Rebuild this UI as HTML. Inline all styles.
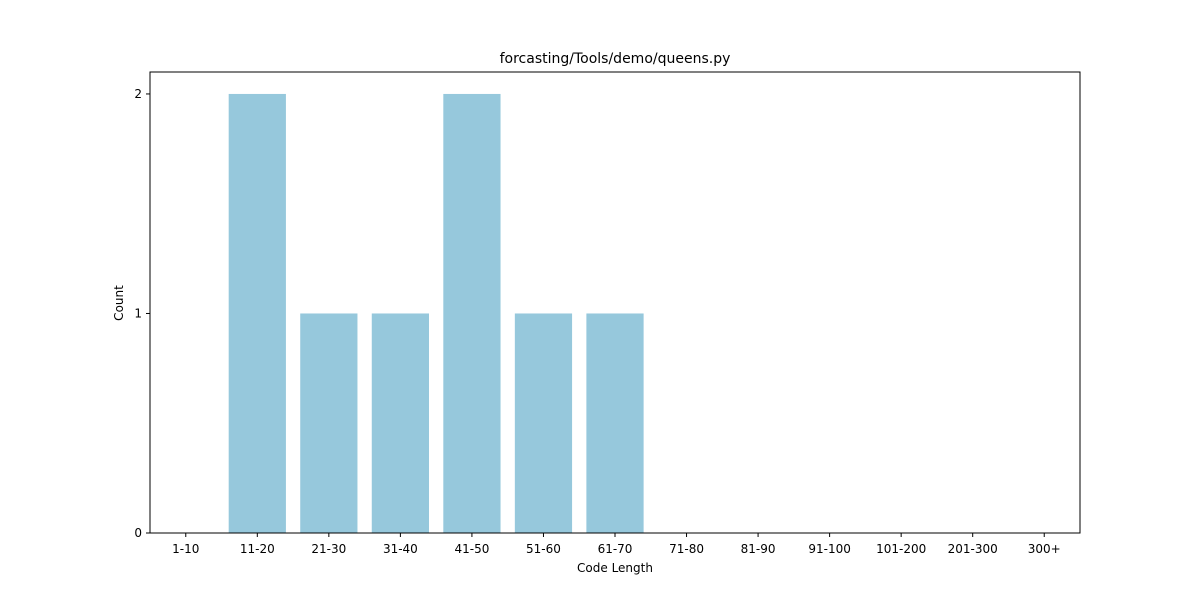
<!DOCTYPE html>
<html><head><meta charset="utf-8"><style>
body{margin:0;background:#fff;}
svg text{font-family:"DejaVu Sans","Liberation Sans",sans-serif;fill:#000;}
</style></head><body>
<svg id="chart" width="1200" height="600">
<rect width="1200" height="600" fill="#fff"/>
<text x="615" y="63" font-size="14" text-anchor="middle">forcasting/Tools/demo/queens.py</text>
<g id="bars"></g>
<rect x="150" y="72" width="930" height="461" fill="none" stroke="#000" stroke-width="1"/>
<g id="xticks"></g><g id="yticks"></g>
<text x="615" y="572" font-size="12" text-anchor="middle">Code Length</text>
<text transform="translate(123,303) rotate(-90)" font-size="12" text-anchor="middle">Count</text>
</svg>
<script>
const categories=["1-10","11-20","21-30","31-40","41-50","51-60","61-70","71-80","81-90","91-100","101-200","201-300","300+"];
const counts=[0,2,1,1,2,1,1,0,0,0,0,0,0];
const yTickValues=[0,1,2];
const L=150,R=1080,T=72,B=533,ymax=2.1;
const x=i=>L+(i+0.5)*(R-L)/categories.length;
const y=v=>B-v*(B-T)/ymax;
const bw=0.8*(R-L)/categories.length;
const NS="http://www.w3.org/2000/svg";
const bars=document.getElementById('bars'),xt=document.getElementById('xticks'),yt=document.getElementById('yticks');
categories.forEach((c,i)=>{
 const r=document.createElementNS(NS,'rect');
 r.setAttribute('x',x(i)-bw/2);r.setAttribute('y',y(counts[i]));
 r.setAttribute('width',bw);r.setAttribute('height',B-y(counts[i]));
 r.setAttribute('fill','#96c8dc');
 
 
 bars.appendChild(r);
 const l=document.createElementNS(NS,'line');
 l.setAttribute('x1',x(i));l.setAttribute('x2',x(i));l.setAttribute('y1',B);l.setAttribute('y2',B+4);l.setAttribute('stroke','#000');
 xt.appendChild(l);
 const t=document.createElementNS(NS,'text');
 t.setAttribute('x',x(i));t.setAttribute('y',B+20);t.setAttribute('font-size','12');t.setAttribute('text-anchor','middle');
 
 
 t.textContent=c;xt.appendChild(t);
});
yTickValues.forEach(v=>{
 const l=document.createElementNS(NS,'line');
 l.setAttribute('x1',L-4);l.setAttribute('x2',L);l.setAttribute('y1',y(v));l.setAttribute('y2',y(v));l.setAttribute('stroke','#000');
 yt.appendChild(l);
 const t=document.createElementNS(NS,'text');
 t.setAttribute('x',L-8);t.setAttribute('y',y(v)+4);t.setAttribute('font-size','12');t.setAttribute('text-anchor','end');
 
 
 t.textContent=v;yt.appendChild(t);
});
</script>
</body></html>
